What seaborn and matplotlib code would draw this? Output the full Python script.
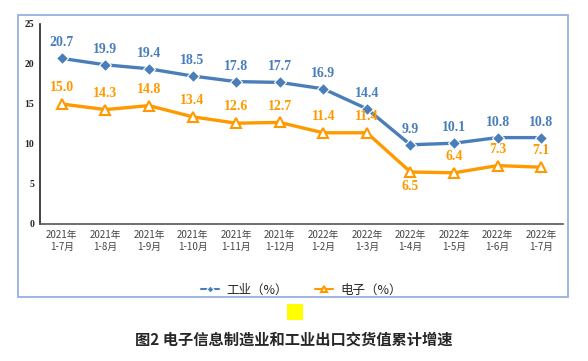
import matplotlib
matplotlib.use("Agg")
import matplotlib.pyplot as plt
import seaborn as sns
import pandas as pd
from matplotlib.patches import Rectangle

# data
periods = ["2021年\n1-7月", "2021年\n1-8月", "2021年\n1-9月", "2021年\n1-10月",
           "2021年\n1-11月", "2021年\n1-12月", "2022年\n1-2月", "2022年\n1-3月",
           "2022年\n1-4月", "2022年\n1-5月", "2022年\n1-6月", "2022年\n1-7月"]
industry = [20.7, 19.9, 19.4, 18.5, 17.8, 17.7, 16.9, 14.4, 9.9, 10.1, 10.8, 10.8]
electronics = [15.0, 14.3, 14.8, 13.4, 12.6, 12.7, 11.4, 11.4, 6.5, 6.4, 7.3, 7.1]
y_ticks = [0, 5, 10, 15, 20, 25]

blue = "#4A7EBB"
orange = "#FF9900"

sns.set_style("white")
plt.rcParams["font.family"] = ["Liberation Serif", "Noto Sans CJK SC"]

fig = plt.figure(figsize=(5.88, 3.61), dpi=100)
ax = fig.add_axes([40 / 588, 1 - 224 / 361, 523 / 588, 200 / 361])

df = pd.DataFrame({"pos": range(len(periods)), "工业": industry, "电子": electronics})

sns.lineplot(data=df, x="pos", y="工业", ax=ax, color=blue, linewidth=2.4,
             marker="D", markersize=6, markeredgecolor="white", markeredgewidth=0.8,
             label="工业（%）")
sns.lineplot(data=df, x="pos", y="电子", ax=ax, color=orange, linewidth=2.4,
             marker="^", markersize=7, markerfacecolor="white", markeredgecolor=orange,
             markeredgewidth=1.5, label="电子（%）")

# value labels
for i, v in enumerate(industry):
    ax.annotate(f"{v:.1f}", (i, v), xytext=(0, 6.5), textcoords="offset points",
                ha="center", va="bottom", color=blue, fontsize=10, fontweight="bold",
                family="Liberation Serif")
for i, v in enumerate(electronics):
    off = -5.5 if v == 6.5 else 7
    ax.annotate(f"{v:.1f}", (i, v), xytext=(0, off), textcoords="offset points",
                ha="center", va="top" if off < 0 else "bottom", color=orange,
                fontsize=10, fontweight="bold", family="Liberation Serif")

ax.set_xlim(-0.5, len(periods) - 0.5)
ax.set_ylim(0, 25)
ax.set_yticks(y_ticks)
ax.set_yticklabels([str(t) for t in y_ticks], fontsize=7, fontweight="bold")
ax.set_xticks(range(len(periods)))
ax.set_xticklabels(periods, fontsize=7, family=["Noto Sans CJK SC"], color="#444444",
                   linespacing=1.3)
ax.tick_params(axis="both", length=0, pad=4)
ax.set_xlabel("")
ax.set_ylabel("")
for s in ["top", "right"]:
    ax.spines[s].set_visible(False)
ax.spines["left"].set_color("#222222")
ax.spines["bottom"].set_color("#555555")
ax.spines["left"].set_linewidth(1.2)
ax.spines["bottom"].set_linewidth(1.2)

leg = ax.legend(loc="center", bbox_to_anchor=(0.5, -0.33), ncol=2, frameon=False,
                prop={"family": ["Noto Sans CJK SC"], "size": 9}, handlelength=1.4,
                columnspacing=2.2, markerscale=0.6, handletextpad=0.6)
for h in leg.get_lines():
    h.set_linewidth(1.5)

# outer frame
fig.patches.append(Rectangle((18 / 588, 1 - 297 / 361), 550 / 588, 282 / 361,
                             transform=fig.transFigure, fill=False,
                             edgecolor="#8EAADB", linewidth=1.2))
# yellow square
fig.patches.append(Rectangle((287 / 588, 1 - 320 / 361), 16 / 588, 16 / 361,
                             transform=fig.transFigure, facecolor="#FFFF00",
                             edgecolor="none"))

fig.text(0.5, 1 - 340 / 361, "图2 电子信息制造业和工业出口交货值累计增速", ha="center",
         va="center", fontsize=11, fontweight="bold", family=["Noto Sans CJK SC"])

fig.savefig("out.png", dpi=100)
